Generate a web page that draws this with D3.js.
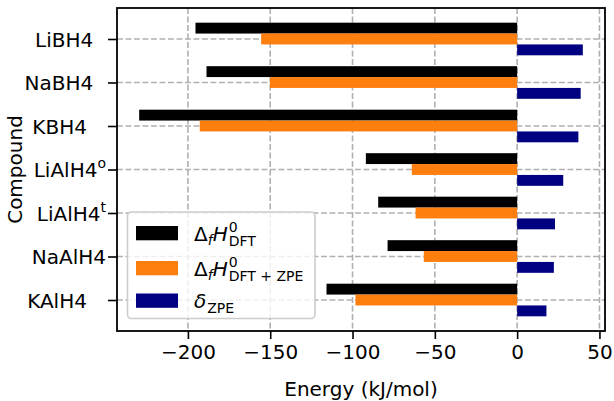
<!DOCTYPE html>
<html>
<head>
<meta charset="utf-8">
<script src="https://cdn.jsdelivr.net/npm/d3@7"></script>
<style>
  body { margin: 0; background: #fff; }
  svg { display: block; font-family: "DejaVu Sans", sans-serif; }
  .ylab text { white-space: pre; }
</style>
</head>
<body>
<svg></svg>
<script>
// categories, top to bottom (trailing spaces are part of the original labels)
const compounds = ['LiBH4  ', 'NaBH4  ', 'KBH4   ', 'LiAlH4', 'LiAlH4', 'NaAlH4', 'KAlH4   '];
const compoundSup = ['', '', '', 'o', 't', '', ''];

// kJ/mol
const dftValues = [-195.4, -188.7, -229.6, -91.9, -84.4, -78.7, -115.8];
const dftZpeValues = [-155.5, -150.2, -192.8, -64.0, -61.7, -56.7, -98.2];
const zpeDelta = [39.9, 38.6, 37.2, 28.0, 23.0, 22.3, 17.8];

const xTicks = [-200, -150, -100, -50, 0, 50];

const width = 614;
const height = 401;
const margin = { top: 8, right: 9, bottom: 70, left: 117 };

const svg = d3.select('svg')
    .attr('width', width)
    .attr('height', height);

const series = [
    { values: dftValues, color: '#000000', offset: -0.25 },
    { values: dftZpeValues, color: '#ff7f0e', offset: 0 },
    { values: zpeDelta, color: '#000080', offset: 0.25 }
];

// matplotlib style 5% margins
const allVals = dftValues.concat(dftZpeValues, zpeDelta, [0]);
const [vmin, vmax] = d3.extent(allVals);
const xPad = (vmax - vmin) * 0.05;

const xScale = d3.scaleLinear()
    .domain([vmin - xPad, vmax + xPad])
    .range([margin.left, width - margin.right]);

const yLo = -0.375, yHi = compounds.length - 1 + 0.375;
const yPad = (yHi - yLo) * 0.05;
const yScale = d3.scaleLinear()
    .domain([yLo - yPad, yHi + yPad])
    .range([margin.top, height - margin.bottom]);

const barH = yScale(0.25) - yScale(0);

// grid
const grid = svg.append('g')
    .attr('stroke', '#b0b0b0')
    .attr('stroke-width', 1.6)
    .attr('stroke-dasharray', '5.9,2.6');

grid.selectAll('line.vx')
    .data(xTicks)
    .enter()
    .append('line')
    .attr('x1', d => xScale(d))
    .attr('x2', d => xScale(d))
    .attr('y1', margin.top)
    .attr('y2', height - margin.bottom);

grid.selectAll('line.hy')
    .data(compounds)
    .enter()
    .append('line')
    .attr('x1', margin.left)
    .attr('x2', width - margin.right)
    .attr('y1', (d, i) => yScale(i))
    .attr('y2', (d, i) => yScale(i));

// bars
series.forEach(s => {
    svg.append('g')
        .selectAll('rect')
        .data(s.values)
        .enter()
        .append('rect')
        .attr('x', d => xScale(Math.min(0, d)))
        .attr('width', d => Math.abs(xScale(d) - xScale(0)))
        .attr('y', (d, i) => yScale(i + s.offset) - barH / 2)
        .attr('height', barH)
        .attr('fill', s.color);
});

// axes
const xAxis = d3.axisBottom(xScale)
    .tickValues(xTicks)
    .tickSize(8)
    .tickPadding(6);

const gx = svg.append('g')
    .attr('transform', 'translate(0,' + (height - margin.bottom) + ')')
    .call(xAxis);
gx.select('.domain').remove();
gx.selectAll('line').attr('stroke-width', 1.6);
gx.selectAll('text').attr('font-size', 20).attr('font-family', 'DejaVu Sans').attr('fill', '#000');

const yAxis = d3.axisLeft(yScale)
    .tickValues(d3.range(compounds.length))
    .tickSize(9)
    .tickPadding(2)
    .tickFormat('');

const gy = svg.append('g')
    .attr('class', 'ylab')
    .attr('transform', 'translate(' + margin.left + ',0)')
    .call(yAxis);
gy.select('.domain').remove();
gy.selectAll('line').attr('stroke-width', 1.6);
gy.selectAll('text')
    .attr('font-size', 20)
    .attr('font-family', 'DejaVu Sans')
    .attr('fill', '#000')
    .attr('dy', '0.36em')
    .each(function(d, i) {
        const t = d3.select(this);
        t.append('tspan').text(compounds[i]);
        if (compoundSup[i]) {
            t.append('tspan')
                .attr('font-size', 14)
                .attr('dy', -9)
                .text(compoundSup[i]);
        }
    });

// frame
svg.append('rect')
    .attr('x', margin.left)
    .attr('y', margin.top)
    .attr('width', width - margin.left - margin.right)
    .attr('height', height - margin.top - margin.bottom)
    .attr('fill', 'none')
    .attr('stroke', '#000')
    .attr('stroke-width', 1.8);

// axis labels
svg.append('text')
    .attr('x', (margin.left + width - margin.right) / 2)
    .attr('y', 396)
    .attr('text-anchor', 'middle')
    .attr('font-size', 20)
    .text('Energy (kJ/mol)');

svg.append('text')
    .attr('transform', 'translate(22,' + ((margin.top + height - margin.bottom) / 2) + ') rotate(-90)')
    .attr('text-anchor', 'middle')
    .attr('font-size', 20)
    .text('Compound');

// legend
const legend = svg.append('g');
legend.append('rect')
    .attr('x', 127.5)
    .attr('y', 212)
    .attr('width', 187.5)
    .attr('height', 106.5)
    .attr('rx', 4)
    .attr('fill', 'rgba(255,255,255,0.8)')
    .attr('stroke', '#cccccc')
    .attr('stroke-width', 1.6);

const legendRows = [
    { main: [['Δ', false, 0], ['f', true, 1], ['H', true, 0]], sup: '0', sub: 'DFT' },
    { main: [['Δ', false, 0], ['f', true, 1], ['H', true, 0]], sup: '0', sub: 'DFT + ZPE' },
    { main: [['δ', true, 0]], sup: '', sub: 'ZPE' }
];
const legendTop = [226, 261, 293.5];

legendRows.forEach((row, k) => {
    const cy = legendTop[k];
    legend.append('rect')
        .attr('x', 136)
        .attr('y', cy)
        .attr('width', 42)
        .attr('height', 14.3)
        .attr('fill', series[k].color);

    const base = cy + 14.5;
    const t = legend.append('text')
        .attr('x', 194)
        .attr('y', base)
        .attr('font-size', 20)
        .style('white-space', 'pre');
    let dy = 0;
    row.main.forEach(([txt, ital, sub]) => {
        const want = sub ? 4 : 0;
        t.append('tspan')
            .attr('dy', want - dy)
            .attr('font-size', sub ? 14 : 20)
            .attr('font-style', ital ? 'italic' : 'normal')
            .text(txt);
        dy = want;
    });
    const xAfter = 194 + t.node().getComputedTextLength() + 1;
    if (row.sup) {
        t.append('tspan')
            .attr('x', xAfter)
            .attr('dy', -9 - dy)
            .attr('font-size', 14)
            .text(row.sup);
        dy = -9;
    }
    t.append('tspan')
        .attr('x', xAfter)
        .attr('dy', 5 - dy)
        .attr('font-size', 14)
        .text(row.sub);
});
</script>
</body>
</html>
